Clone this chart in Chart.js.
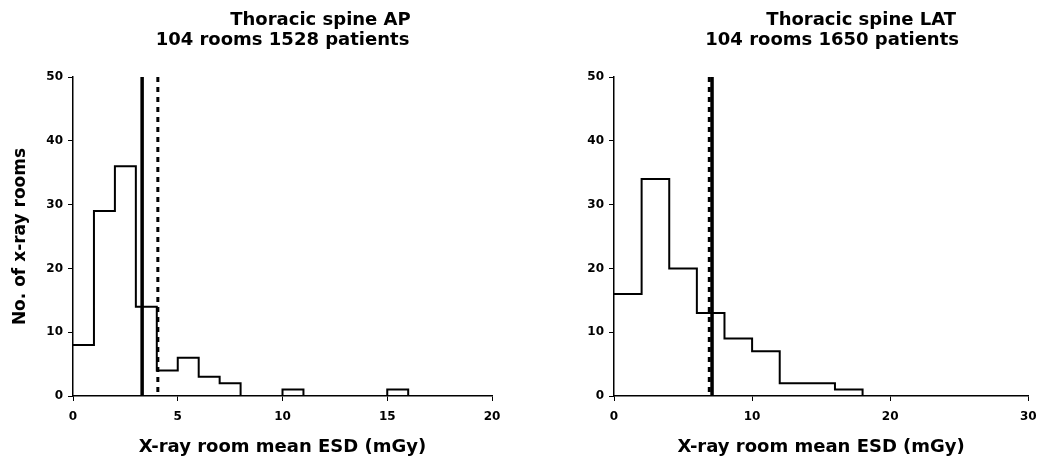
<!DOCTYPE html>
<html>
<head>
<meta charset="utf-8">
<script src="https://cdn.jsdelivr.net/npm/chart.js@4"></script>
<style>
  html, body { margin: 0; padding: 0; background: #fff; }
  #wrap { position: relative; width: 1046px; height: 469px; overflow: hidden; }
  #apChart { position: absolute; left: 0; top: 0; }
  #latChart { position: absolute; left: 545px; top: 0; }
</style>
</head>
<body>
<div id="wrap">
  <canvas id="apChart" width="545" height="469"></canvas>
  <canvas id="latChart" width="501" height="469"></canvas>
</div>
<script>
// Thoracic spine AP: 1 mGy bins
const apBinWidth = 1;
const apCounts = [8, 29, 36, 14, 4, 6, 3, 2, 0, 0, 1, 0, 0, 0, 0, 1, 0, 0, 0, 0];
const apMeanLine = 3.3;     // solid
const apRefLine = 4.05;     // dashed
const apXTicks = [0, 5, 10, 15, 20];

// Thoracic spine LAT: 2 mGy bins
const latBinWidth = 2;
const latCounts = [16, 34, 20, 13, 9, 7, 2, 2, 1, 0, 0, 0, 0, 0, 0];
const latMeanLine = 7.1;    // solid
const latRefLine = 6.9;     // dashed
const latXTicks = [0, 10, 20, 30];

const yTicks = [0, 10, 20, 30, 40, 50];

const BOLD = { family: 'DejaVu Sans', size: 18, weight: 'bold' };
const TICK_FONT = { family: 'DejaVu Sans', size: 12, weight: 'bold' };

// histogram outline points (left edge of each bin + closing edge)
function histPoints(counts, width) {
    const pts = counts.map((c, i) => ({ x: i * width, y: c }));
    pts.push({ x: counts.length * width, y: counts[counts.length - 1] });
    return pts;
}

// drawn top -> bottom so the dash pattern starts at the top
function vLine(x) {
    return [{ x: x, y: yTicks[yTicks.length - 1] }, { x: x, y: yTicks[0] }];
}

// two-line panel heading, first line sits right of the plot centre
const panelTitle = {
    id: 'panelTitle',
    afterDraw(chart, args, opts) {
        const ctx = chart.ctx;
        const mid = (chart.chartArea.left + chart.chartArea.right) / 2;
        ctx.save();
        ctx.fillStyle = '#000';
        ctx.font = 'bold 18px "DejaVu Sans"';
        ctx.textAlign = 'center';
        ctx.textBaseline = 'alphabetic';
        opts.lines.forEach((t, i) => {
            ctx.fillText(t, mid + opts.offsets[i], 25 + i * 20);
        });
        ctx.restore();
    }
};

function makeChart(id, o) {
    const ctx = document.getElementById(id).getContext('2d');
    return new Chart(ctx, {
        type: 'line',
        data: {
            datasets: [
                {
                    data: histPoints(o.counts, o.binWidth),
                    stepped: true,
                    borderColor: '#000',
                    borderWidth: 2,
                    pointRadius: 0,
                    fill: false,
                    order: 3
                },
                {
                    data: vLine(o.refLine),
                    borderColor: '#000',
                    borderWidth: 3,
                    borderDash: [5, 5],
                    pointRadius: 0,
                    order: o.dashOrder
                },
                {
                    data: vLine(o.meanLine),
                    borderColor: '#000',
                    borderWidth: 3.5,
                    pointRadius: 0,
                    order: o.solidOrder
                }
            ]
        },
        options: {
            responsive: false,
            animation: false,
            layout: { padding: { left: 0, top: 77, right: o.padRight, bottom: 0 } },
            plugins: {
                legend: { display: false },
                tooltip: { enabled: false },
                title: { display: false },
                panelTitle: { lines: o.title, offsets: o.titleOffsets }
            },
            scales: {
                x: {
                    type: 'linear',
                    min: o.xTicks[0],
                    max: o.xTicks[o.xTicks.length - 1],
                    afterBuildTicks: s => { s.ticks = o.xTicks.map(v => ({ value: v })); },
                    afterFit: s => { s.height = 73; },
                    grid: { drawOnChartArea: false, drawTicks: true, tickLength: 5, color: '#000' },
                    border: { color: '#000', width: 1.5 },
                    ticks: { color: '#000', font: TICK_FONT, padding: 9, maxRotation: 0 },
                    title: {
                        display: true,
                        text: 'X-ray room mean ESD (mGy)',
                        color: '#000',
                        font: BOLD,
                        padding: { top: 0, bottom: 11 }
                    }
                },
                y: {
                    min: 0,
                    max: 50,
                    afterBuildTicks: s => { s.ticks = yTicks.map(v => ({ value: v })); },
                    afterFit: s => { s.width = o.yWidth; },
                    grid: { drawOnChartArea: false, drawTicks: true, tickLength: 5, color: '#000' },
                    border: { color: '#000', width: 1.5 },
                    ticks: { color: '#000', font: TICK_FONT, padding: 5 },
                    title: {
                        display: o.yTitle,
                        text: 'No. of x-ray rooms',
                        color: '#000',
                        font: { family: 'DejaVu Sans', size: 17, weight: 'bold' },
                        padding: { top: 10, bottom: 0 }
                    }
                }
            }
        },
        plugins: [panelTitle]
    });
}

makeChart('apChart', {
    counts: apCounts,
    binWidth: apBinWidth,
    meanLine: apMeanLine,
    refLine: apRefLine,
    xTicks: apXTicks,
    title: ['Thoracic spine AP', '104 rooms 1528 patients'],
    titleOffsets: [38, 0],
    yTitle: true,
    yWidth: 73,
    padRight: 53,
    dashOrder: 1,
    solidOrder: 2
});

makeChart('latChart', {
    counts: latCounts,
    binWidth: latBinWidth,
    meanLine: latMeanLine,
    refLine: latRefLine,
    xTicks: latXTicks,
    title: ['Thoracic spine LAT', '104 rooms 1650 patients'],
    titleOffsets: [40, 11],
    yTitle: false,
    yWidth: 69,
    padRight: 17.7,
    dashOrder: 2,
    solidOrder: 1
});
</script>
</body>
</html>
